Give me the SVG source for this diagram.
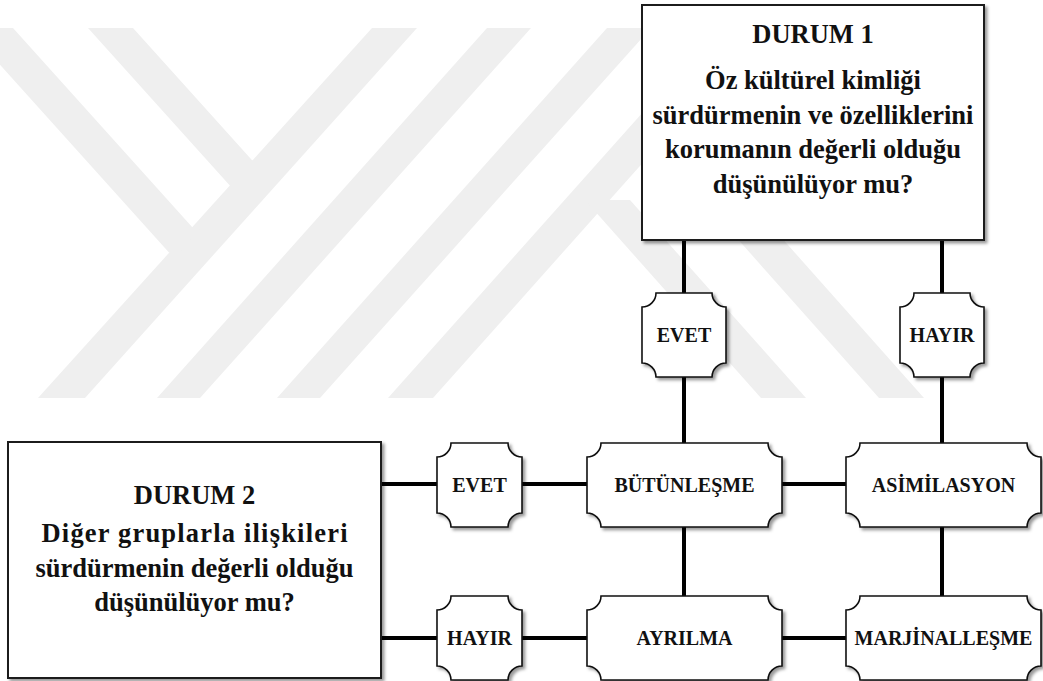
<svg xmlns="http://www.w3.org/2000/svg" width="1043" height="681" viewBox="0 0 1043 681">
  <defs>
    <filter id="sh" x="-10%" y="-10%" width="125%" height="125%">
      <feDropShadow dx="2.5" dy="2.5" stdDeviation="1.5" flood-color="#000" flood-opacity="0.4"/>
    </filter>
    <style>
      .wm { fill: #efefef; }
      .box { fill: #ffffff; stroke: #1a1a1a; stroke-width: 2; filter: url(#sh); }
      .plq { fill: #ffffff; stroke: #111; stroke-width: 1.6; filter: url(#sh); }
      .con { stroke: #000; stroke-width: 4; fill: none; }
      .t { font-family: "Liberation Serif", "Times New Roman", serif; font-weight: bold; fill: #111; text-anchor: middle; }
      .big { font-size: 26.5px; }
      .lbl { font-size: 20px; }
    </style>
  </defs>
  <rect x="0" y="0" width="1043" height="681" fill="#ffffff"/>
  <g id="watermark">
    <polygon class="wm" points="38,398 85,398 417,28 372,28"/>
    <polygon class="wm" points="-33,28 13,28 192.3,227.2 202,227.2 179,252.7 169.2,252.7"/>
    <polygon class="wm" points="88,28 133,28 252.3,160.6 262,160.6 240,185.6 229.8,185.6"/>
    <polygon class="wm" points="157,398 200,398 531,28 487,28"/>
    <polygon class="wm" points="277,398 320,398 651,28 607,28"/>
    <polygon class="wm" points="388,398 433,398 763,28 718,28"/>
    <polygon class="wm" points="585,200 630,200 806,398 761,398"/>
    <polygon class="wm" points="703,200 748,200 924,398 879,398"/>
  </g>
  <g id="connectors">
    <line class="con" x1="684" y1="240" x2="684" y2="293"/>
    <line class="con" x1="684" y1="377" x2="684" y2="443"/>
    <line class="con" x1="684" y1="527" x2="684" y2="596"/>
    <line class="con" x1="942" y1="240" x2="942" y2="293"/>
    <line class="con" x1="942" y1="377" x2="942" y2="443"/>
    <line class="con" x1="942" y1="527" x2="942" y2="596"/>
    <line class="con" x1="381" y1="484" x2="437" y2="484"/>
    <line class="con" x1="522" y1="484" x2="587" y2="484"/>
    <line class="con" x1="782" y1="484" x2="846" y2="484"/>
    <line class="con" x1="381" y1="638" x2="437" y2="638"/>
    <line class="con" x1="522" y1="638" x2="587" y2="638"/>
    <line class="con" x1="782" y1="638" x2="846" y2="638"/>
  </g>
  <g id="durum1">
    <rect class="box" x="642" y="5" width="342" height="235"/>
    <text class="t big" x="813" y="43">DURUM 1</text>
    <text class="t big" x="813" y="89">Öz kültürel kimliği</text>
    <text class="t big" x="813" y="123.5">sürdürmenin ve özelliklerini</text>
    <text class="t big" x="813" y="158">korumanın değerli olduğu</text>
    <text class="t big" x="813" y="192.5">düşünülüyor mu?</text>
  </g>
  <g id="durum2">
    <rect class="box" x="8" y="442" width="373" height="236"/>
    <text class="t big" x="194.5" y="504">DURUM 2</text>
    <text class="t big" x="194.5" y="542" textLength="306" lengthAdjust="spacing">Diğer gruplarla ilişkileri</text>
    <text class="t big" x="194.5" y="577">sürdürmenin değerli olduğu</text>
    <text class="t big" x="194.5" y="611">düşünülüyor mu?</text>
  </g>
  <g id="evet1">
    <path class="plq" d="M656,293 H712 A14,14 0 0 0 726,307 V363 A14,14 0 0 0 712,377 H656 A14,14 0 0 0 642,363 V307 A14,14 0 0 0 656,293 Z"/>
    <text class="t lbl" x="684" y="341.6">EVET</text>
  </g>
  <g id="hayir1">
    <path class="plq" d="M914,293 H970 A14,14 0 0 0 984,307 V363 A14,14 0 0 0 970,377 H914 A14,14 0 0 0 900,363 V307 A14,14 0 0 0 914,293 Z"/>
    <text class="t lbl" x="942" y="341.6">HAYIR</text>
  </g>
  <g id="evet2">
    <path class="plq" d="M451,443 H508 A14,14 0 0 0 522,457 V513 A14,14 0 0 0 508,527 H451 A14,14 0 0 0 437,513 V457 A14,14 0 0 0 451,443 Z"/>
    <text class="t lbl" x="479.5" y="491.6">EVET</text>
  </g>
  <g id="hayir2">
    <path class="plq" d="M451,596 H508 A14,14 0 0 0 522,610 V666 A14,14 0 0 0 508,680 H451 A14,14 0 0 0 437,666 V610 A14,14 0 0 0 451,596 Z"/>
    <text class="t lbl" x="479.5" y="644.6">HAYIR</text>
  </g>
  <g id="butunlesme">
    <path class="plq" d="M601,443 H768 A14,14 0 0 0 782,457 V513 A14,14 0 0 0 768,527 H601 A14,14 0 0 0 587,513 V457 A14,14 0 0 0 601,443 Z"/>
    <text class="t lbl" x="684.5" y="491.6">BÜTÜNLEŞME</text>
  </g>
  <g id="asimilasyon">
    <path class="plq" d="M860,443 H1027 A14,14 0 0 0 1041,457 V513 A14,14 0 0 0 1027,527 H860 A14,14 0 0 0 846,513 V457 A14,14 0 0 0 860,443 Z"/>
    <text class="t lbl" x="943.5" y="491.6">ASİMİLASYON</text>
  </g>
  <g id="ayrilma">
    <path class="plq" d="M601,596 H768 A14,14 0 0 0 782,610 V666 A14,14 0 0 0 768,680 H601 A14,14 0 0 0 587,666 V610 A14,14 0 0 0 601,596 Z"/>
    <text class="t lbl" x="684.5" y="644.6">AYRILMA</text>
  </g>
  <g id="marjinallesme">
    <path class="plq" d="M860,596 H1027 A14,14 0 0 0 1041,610 V666 A14,14 0 0 0 1027,680 H860 A14,14 0 0 0 846,666 V610 A14,14 0 0 0 860,596 Z"/>
    <text class="t lbl" x="943.5" y="644.6">MARJİNALLEŞME</text>
  </g>
</svg>
